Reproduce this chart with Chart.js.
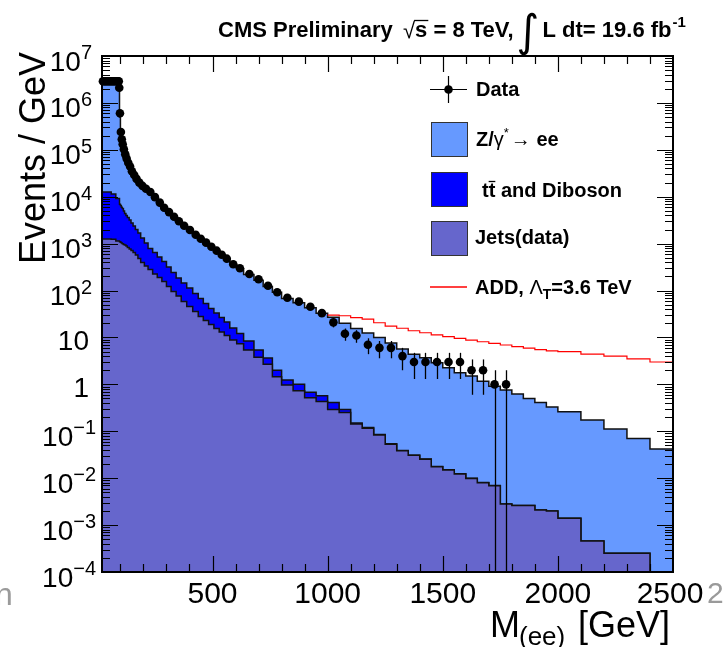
<!DOCTYPE html>
<html>
<head>
<meta charset="utf-8">
<style>
  html, body { margin: 0; padding: 0; background: #fff; }
  #wrap { width: 727px; height: 647px; }
</style>
<script src="https://cdn.jsdelivr.net/npm/chart.js@4.4.0/dist/chart.umd.min.js"></script>
</head>
<body>
<div id="wrap"><canvas id="grafico" width="727" height="647"></canvas></div>
<script>
const FONT = "'Liberation Sans', Arial, Helvetica, sans-serif";

// histogram bin edges, GeV
const binEdges = [20, 60, 80, 96, 100, 104, 108, 113, 118, 124, 130, 138, 146, 155, 165, 176, 188, 204, 220, 240,
    260, 280, 300, 320, 342, 364, 388, 414, 438, 460, 483, 506, 529, 551, 575, 605, 635, 680, 720, 760,
    800, 850, 900, 950, 1000, 1050, 1100, 1150, 1200, 1250, 1300, 1350, 1400, 1450, 1500, 1550, 1600, 1650, 1700, 1750,
    1800, 1850, 1900, 1950, 2000, 2100, 2200, 2300, 2400, 2500];

// top of the full stack (Z/gamma* + ttbar/diboson + jets)
const totalBkg = [2.9e6, 2.9e6, 2.9e6, 5e5, 2.3e5, 1.6e5, 1.28e5, 1.0e5, 8.0e4, 6.4e4,
    5.2e4, 4.3e4, 3.5e4, 2.9e4, 2.4e4, 2.0e4, 1.68e4, 1.45e4, 1.22e4, 9.5e3,
    7.5e3, 5.9e3, 4.7e3, 3.7e3, 2.95e3, 2.35e3, 1.9e3, 1.5e3, 1.25e3, 1.03e3,
    850, 700, 575, 470, 360, 290, 220, 165, 122, 92,
    68, 55, 43, 33, 27, 20, 15.5, 12.5, 10, 7.6,
    5.7, 4.4, 3.7, 2.9, 2.25, 1.77, 1.5, 1.17, 0.91, 0.76,
    0.62, 0.50, 0.41, 0.33, 0.26, 0.174, 0.112, 0.070, 0.042];

// top of ttbar+diboson band (stacked on jets)
const ttbarPlusJets = [1.26e4, 1.14e4, 9.2e3, 6.9e3, 6.5e3, 6.0e3, 5.6e3, 4.97e3, 4.39e3, 3.98e3,
    3.6e3, 3.19e3, 2.75e3, 2.38e3, 2.0e3, 1.69e3, 1.32e3, 1.03e3, 787, 647,
    519, 416, 318, 243, 185, 145, 113, 86.5, 67.7, 53,
    41.4, 33.2, 26.6, 21.3, 15.9, 12.1, 8.4, 5.4, 3.65, 2.0,
    1.24, 1.0, 0.68, 0.57, 0.41, 0.29, 0.15, 0.12, 0.085, 0.054,
    0.039, 0.031, 0.0255, 0.0178, 0.0151, 0.0124, 0.0100, 0.0081, 0.0070, 0.0028,
    0.0026, 0.0026, 0.0021, 0.0020, 0.0014, 0.00046, 0.00025, 0.00025, null];

// jets (from data)
const jetsBkg = [1.26e3, 1.24e3, 1.14e3, 1.10e3, 1.07e3, 1.03e3, 998, 959, 936, 891,
    828, 769, 714, 647, 573, 482, 396, 334, 281, 225,
    190, 156, 122, 95.5, 76.5, 58.4, 45.7, 35.7, 28, 23,
    18.9, 15.5, 13.1, 11, 8.8, 7.3, 5.4, 3.8, 2.7, 1.45,
    0.97, 0.73, 0.52, 0.43, 0.29, 0.25, 0.143, 0.116, 0.083, 0.053,
    0.0385, 0.0308, 0.0253, 0.0176, 0.0150, 0.0123, 0.0099, 0.0080, 0.0069, 0.0028,
    0.0026, 0.0026, 0.0021, 0.0020, 0.0014, 0.00046, 0.00025, 0.00025, null];

// ADD signal + background, bins from 1000 GeV
const addFrom = 1000;
const addSignal = [30, 29, 26.5, 24.5, 20.6, 17.5, 15.7, 13.9, 12.6, 11.3,
    10.4, 9.6, 8.8, 8.1, 7.5, 6.9, 6.35, 5.9, 5.5, 5.2,
    5.0, 4.4, 4.0, 3.5, 3.0];

// data points
const dataMass = [24, 29, 34, 39, 44, 49, 54, 59, 64, 69, 74, 79, 84, 89, 93,
    95, 98, 102, 106, 110, 115, 121, 127, 134, 142,
    150, 160, 170, 182, 196, 211, 230, 250, 271, 290,
    311, 333, 354, 377, 402, 427, 449, 472, 495, 518,
    540, 562, 590, 619, 660, 700, 741, 781, 825, 875,
    925, 975, 1025, 1075, 1125, 1175, 1225, 1275, 1325, 1375,
    1425, 1475, 1525, 1575, 1625, 1675, 1725, 1775];
const dataVal = [2.9e6, 2.9e6, 2.9e6, 2.9e6, 2.9e6, 2.9e6, 2.9e6, 2.9e6, 2.9e6, 2.9e6, 2.9e6, 2.9e6, 2.9e6, 2.9e6, 2.9e6,
    2.1e6, 6.0e5, 2.4e5, 1.67e5, 1.31e5, 1.03e5, 8.0e4, 6.5e4, 5.3e4, 4.4e4,
    3.5e4, 2.9e4, 2.4e4, 2.0e4, 1.7e4, 1.48e4, 1.26e4, 9.8e3, 7.5e3, 5.8e3,
    4.7e3, 3.75e3, 3.0e3, 2.4e3, 1.95e3, 1.55e3, 1.27e3, 1.05e3, 860, 708,
    581, 478, 363, 298, 225, 174, 127, 92, 70, 58,
    45, 33, 21, 12, 11, 7, 6, 6, 4, 3,
    3, 3, 3, 3, 2, 2, 1, 1];
// visible error bars (symmetric)
const errMass = [825, 875, 925, 975, 1025, 1075, 1125, 1175, 1225, 1275, 1325, 1375, 1425, 1475, 1525, 1575, 1625, 1675, 1725, 1775];
const errSize = [8.4, 7.6, 6.7, 5.7, 4.6, 3.5, 3.3, 2.6, 2.4, 2.4, 2.0, 1.7, 1.7, 1.7, 1.7, 1.7, 1.4, 1.4, 1.0, 1.0];

// axis ticks
const xTickLabels = [500, 1000, 1500, 2000, 2500];
const yExponents = [-4, -3, -2, -1, 0, 1, 2, 3, 4, 5, 6, 7];

const COL_Z = '#6699ff';
const COL_TT = '#0000ff';
const COL_JETS = '#6666cc';
const DOT_R = 4.3;

// turn (edges, values) into step points; empty bins go below the axis
function histPoints(edges, values) {
    const pts = [];
    for (let i = 0; i < values.length; i++) {
        pts.push({ x: edges[i], y: values[i] === null ? 1e-9 : values[i] });
    }
    const last = values[values.length - 1];
    pts.push({ x: edges[values.length], y: last === null ? 1e-9 : last });
    return pts;
}

function drawRuns(ctx, x, y, runs) {
    runs.forEach(r => {
        ctx.font = r.font;
        x += (r.dx || 0);
        ctx.fillText(r.t, x, y + (r.dy || 0));
        x += ctx.measureText(r.t).width;
    });
    return x;
}

// error bars under the data dots
const errorBarPlugin = {
    id: 'errorBars',
    beforeDatasetDraw(chart, args) {
        if (args.index !== 0) return;
        const { ctx, chartArea } = chart;
        const xs = chart.scales.x, ys = chart.scales.y;
        ctx.save();
        ctx.strokeStyle = '#000';
        ctx.lineWidth = 1.3;
        errMass.forEach((m, i) => {
            const v = dataVal[dataMass.indexOf(m)];
            const x = Math.round(xs.getPixelForValue(m)) + 0.5;
            const lo = v - errSize[i];
            const yTop = ys.getPixelForValue(v + errSize[i]);
            const yBot = lo > 0 ? ys.getPixelForValue(lo) : chartArea.bottom;
            ctx.beginPath();
            ctx.moveTo(x, yTop);
            ctx.lineTo(x, yBot);
            ctx.stroke();
        });
        ctx.restore();
    }
};

// ROOT-like frame, inner ticks, labels, titles, legend
const decorPlugin = {
    id: 'decor',
    afterDraw(chart) {
        const { ctx, chartArea: a } = chart;
        const xs = chart.scales.x, ys = chart.scales.y;
        ctx.save();

        // ticks
        ctx.strokeStyle = '#000';
        ctx.lineWidth = 1.2;
        ctx.beginPath();
        for (let v = 100; v < 2500; v += 100) {
            const x = Math.round(xs.getPixelForValue(v)) + 0.5;
            const len = v % 500 === 0 ? 16 : 8;
            ctx.moveTo(x, a.bottom); ctx.lineTo(x, a.bottom - len);
            ctx.moveTo(x, a.top); ctx.lineTo(x, a.top + len);
        }
        for (let e = -4; e < 7; e++) {
            for (let m = 1; m < 10; m++) {
                const y = Math.round(ys.getPixelForValue(m * Math.pow(10, e))) + 0.5;
                const len = m === 1 ? 16 : 8;
                ctx.moveTo(a.left, y); ctx.lineTo(a.left + len, y);
                ctx.moveTo(a.right, y); ctx.lineTo(a.right - len, y);
            }
        }
        ctx.stroke();

        // frame
        ctx.lineWidth = 2;
        ctx.strokeRect(a.left, a.top, a.right - a.left, a.bottom - a.top);

        // y tick labels: 10^n
        ctx.fillStyle = '#000';
        ctx.textBaseline = 'alphabetic';
        yExponents.forEach(e => {
            const y = ys.getPixelForValue(Math.pow(10, e));
            if (e === 0 || e === 1) {
                ctx.font = '28px ' + FONT;
                ctx.textAlign = 'right';
                ctx.fillText(e === 0 ? '1' : '10', 89, y + 12.5);
            } else {
                const exp = e < 0 ? '\u2212' + (-e) : String(e);
                const right = e < 0 ? 96 : 92;
                ctx.font = '20px ' + FONT;
                const we = ctx.measureText(exp).width;
                ctx.textAlign = 'left';
                ctx.fillText(exp, right - we, y + 3);
                ctx.font = '28px ' + FONT;
                ctx.textAlign = 'right';
                ctx.fillText('10', right - we, y + 14.5);
            }
        });

        // x tick labels
        ctx.font = '30px ' + FONT;
        ctx.textAlign = 'center';
        xTickLabels.forEach(v => {
            const x = Math.min(xs.getPixelForValue(v), 670);
            ctx.fillText(String(v), x, 603);
        });

        // stray labels cut from neighbouring panels
        ctx.fillStyle = '#9a9a9a';
        ctx.textAlign = 'left';
        ctx.font = '32px ' + FONT;
        ctx.fillText('n', -5, 605);
        ctx.font = '30px ' + FONT;
        ctx.fillText('2', 707, 603);
        ctx.fillStyle = '#000';

        // axis titles
        ctx.save();
        ctx.translate(45, 158);
        ctx.rotate(-Math.PI / 2);
        ctx.textAlign = 'center';
        ctx.font = '36px ' + FONT;
        ctx.fillText('Events / GeV', 0, 0);
        ctx.restore();

        ctx.textAlign = 'left';
        ctx.font = '36px ' + FONT;
        ctx.fillText('M', 490, 637);
        ctx.font = '26px ' + FONT;
        ctx.fillText('(ee)', 519, 645);
        ctx.font = '36px ' + FONT;
        ctx.fillText('[GeV]', 578, 637);

        // top title
        const B22 = 'bold 22px ' + FONT;
        ctx.font = B22;
        ctx.fillText('CMS Preliminary', 218, 37);
        ctx.font = '22px ' + FONT;
        ctx.fillText('\u221A', 403, 38);
        const sx = 403 + ctx.measureText('\u221A').width;
        ctx.font = B22;
        ctx.fillText('s', sx, 37);
        const sw = ctx.measureText('s').width;
        ctx.lineWidth = 1.3;
        ctx.beginPath();
        ctx.moveTo(sx - 1, 20.5); ctx.lineTo(sx + sw + 1, 20.5);
        ctx.stroke();
        const ex = drawRuns(ctx, sx + sw, 37, [{ t: ' = 8 TeV,', font: B22 }]);
        ctx.font = "44px 'DejaVu Sans', sans-serif";
        ctx.fillText('\u222B', ex + 3, 46);
        drawRuns(ctx, ex + 29, 37, [
            { t: 'L dt= 19.6 fb', font: B22 },
            { t: '-1', font: 'bold 15px ' + FONT, dy: -10, dx: 1 }
        ]);

        // legend
        const B20 = 'bold 20px ' + FONT;
        const R20 = '20px ' + FONT;
        ctx.strokeStyle = '#000';
        ctx.lineWidth = 1.2;
        ctx.beginPath();
        ctx.moveTo(430, 89.5); ctx.lineTo(467, 89.5);
        ctx.moveTo(448.5, 76); ctx.lineTo(448.5, 103);
        ctx.stroke();
        ctx.beginPath();
        ctx.arc(448.5, 89.5, DOT_R, 0, Math.PI * 2);
        ctx.fill();
        ctx.font = B20;
        ctx.fillText('Data', 476, 96);

        [[122, COL_Z], [172, COL_TT], [221, COL_JETS]].forEach(b => {
            ctx.fillStyle = b[1];
            ctx.fillRect(431, b[0], 36, 34);
            ctx.strokeStyle = '#333';
            ctx.lineWidth = 1;
            ctx.strokeRect(431.5, b[0] + 0.5, 36, 34);
        });
        ctx.fillStyle = '#000';

        drawRuns(ctx, 476, 146, [
            { t: 'Z/', font: B20 },
            { t: '\u03B3', font: R20 },
            { t: '*', font: '13px ' + FONT, dy: -9 },
            { t: '\u2192', font: R20, dx: 2 },
            { t: ' ee', font: B20 }
        ]);

        ctx.font = B20;
        const tw = ctx.measureText('t').width;
        ctx.fillText('tt and Diboson', 482, 197);
        ctx.strokeStyle = '#000';
        ctx.lineWidth = 1.3;
        ctx.beginPath();
        ctx.moveTo(482 + tw, 181.5); ctx.lineTo(482 + 2 * tw, 181.5);
        ctx.stroke();

        ctx.font = 'bold 20px ' + FONT;
        ctx.fillText('Jets(data)', 475, 244);

        ctx.strokeStyle = '#ff0000';
        ctx.lineWidth = 1.6;
        ctx.beginPath();
        ctx.moveTo(430, 287); ctx.lineTo(467, 287);
        ctx.stroke();
        drawRuns(ctx, 475, 294, [
            { t: 'ADD, ', font: B20 },
            { t: '\u039B', font: R20 },
            { t: 'T', font: 'bold 14px ' + FONT, dy: 5 },
            { t: '=3.6 TeV', font: B20 }
        ]);

        ctx.restore();
    }
};

const addEdges = binEdges.slice(binEdges.indexOf(addFrom));

const ctx = document.getElementById('grafico').getContext('2d');
new Chart(ctx, {
    type: 'line',
    data: {
        datasets: [{
            label: 'Data',
            type: 'scatter',
            data: dataMass.map((m, i) => ({ x: m, y: dataVal[i] })),
            pointRadius: DOT_R,
            pointBackgroundColor: '#000',
            pointBorderWidth: 0,
            showLine: false,
            clip: false
        }, {
            label: 'ADD, \u039BT=3.6 TeV',
            data: histPoints(addEdges, addSignal),
            borderColor: '#ff0000',
            borderWidth: 1.2,
            stepped: true,
            pointRadius: 0,
            fill: false
        }, {
            label: 'Jets(data)',
            data: histPoints(binEdges, jetsBkg),
            borderColor: '#111',
            borderWidth: 1.5,
            backgroundColor: COL_JETS,
            fill: 'start',
            stepped: true,
            pointRadius: 0
        }, {
            label: 'tt and Diboson',
            data: histPoints(binEdges, ttbarPlusJets),
            borderColor: '#111',
            borderWidth: 1.5,
            backgroundColor: COL_TT,
            fill: 'start',
            stepped: true,
            pointRadius: 0
        }, {
            label: 'Z/\u03B3* \u2192 ee',
            data: histPoints(binEdges, totalBkg),
            borderColor: '#111',
            borderWidth: 1.5,
            backgroundColor: COL_Z,
            fill: 'start',
            stepped: true,
            pointRadius: 0
        }]
    },
    options: {
        responsive: false,
        animation: false,
        devicePixelRatio: 1,
        layout: { padding: { left: 102, right: 54, top: 56, bottom: 75 } },
        plugins: {
            legend: { display: false },
            tooltip: { enabled: false }
        },
        scales: {
            x: { type: 'linear', min: 20, max: 2500, display: false },
            y: { type: 'logarithmic', min: 1e-4, max: 1e7, display: false }
        }
    },
    plugins: [errorBarPlugin, decorPlugin]
});
</script>
</body>
</html>
